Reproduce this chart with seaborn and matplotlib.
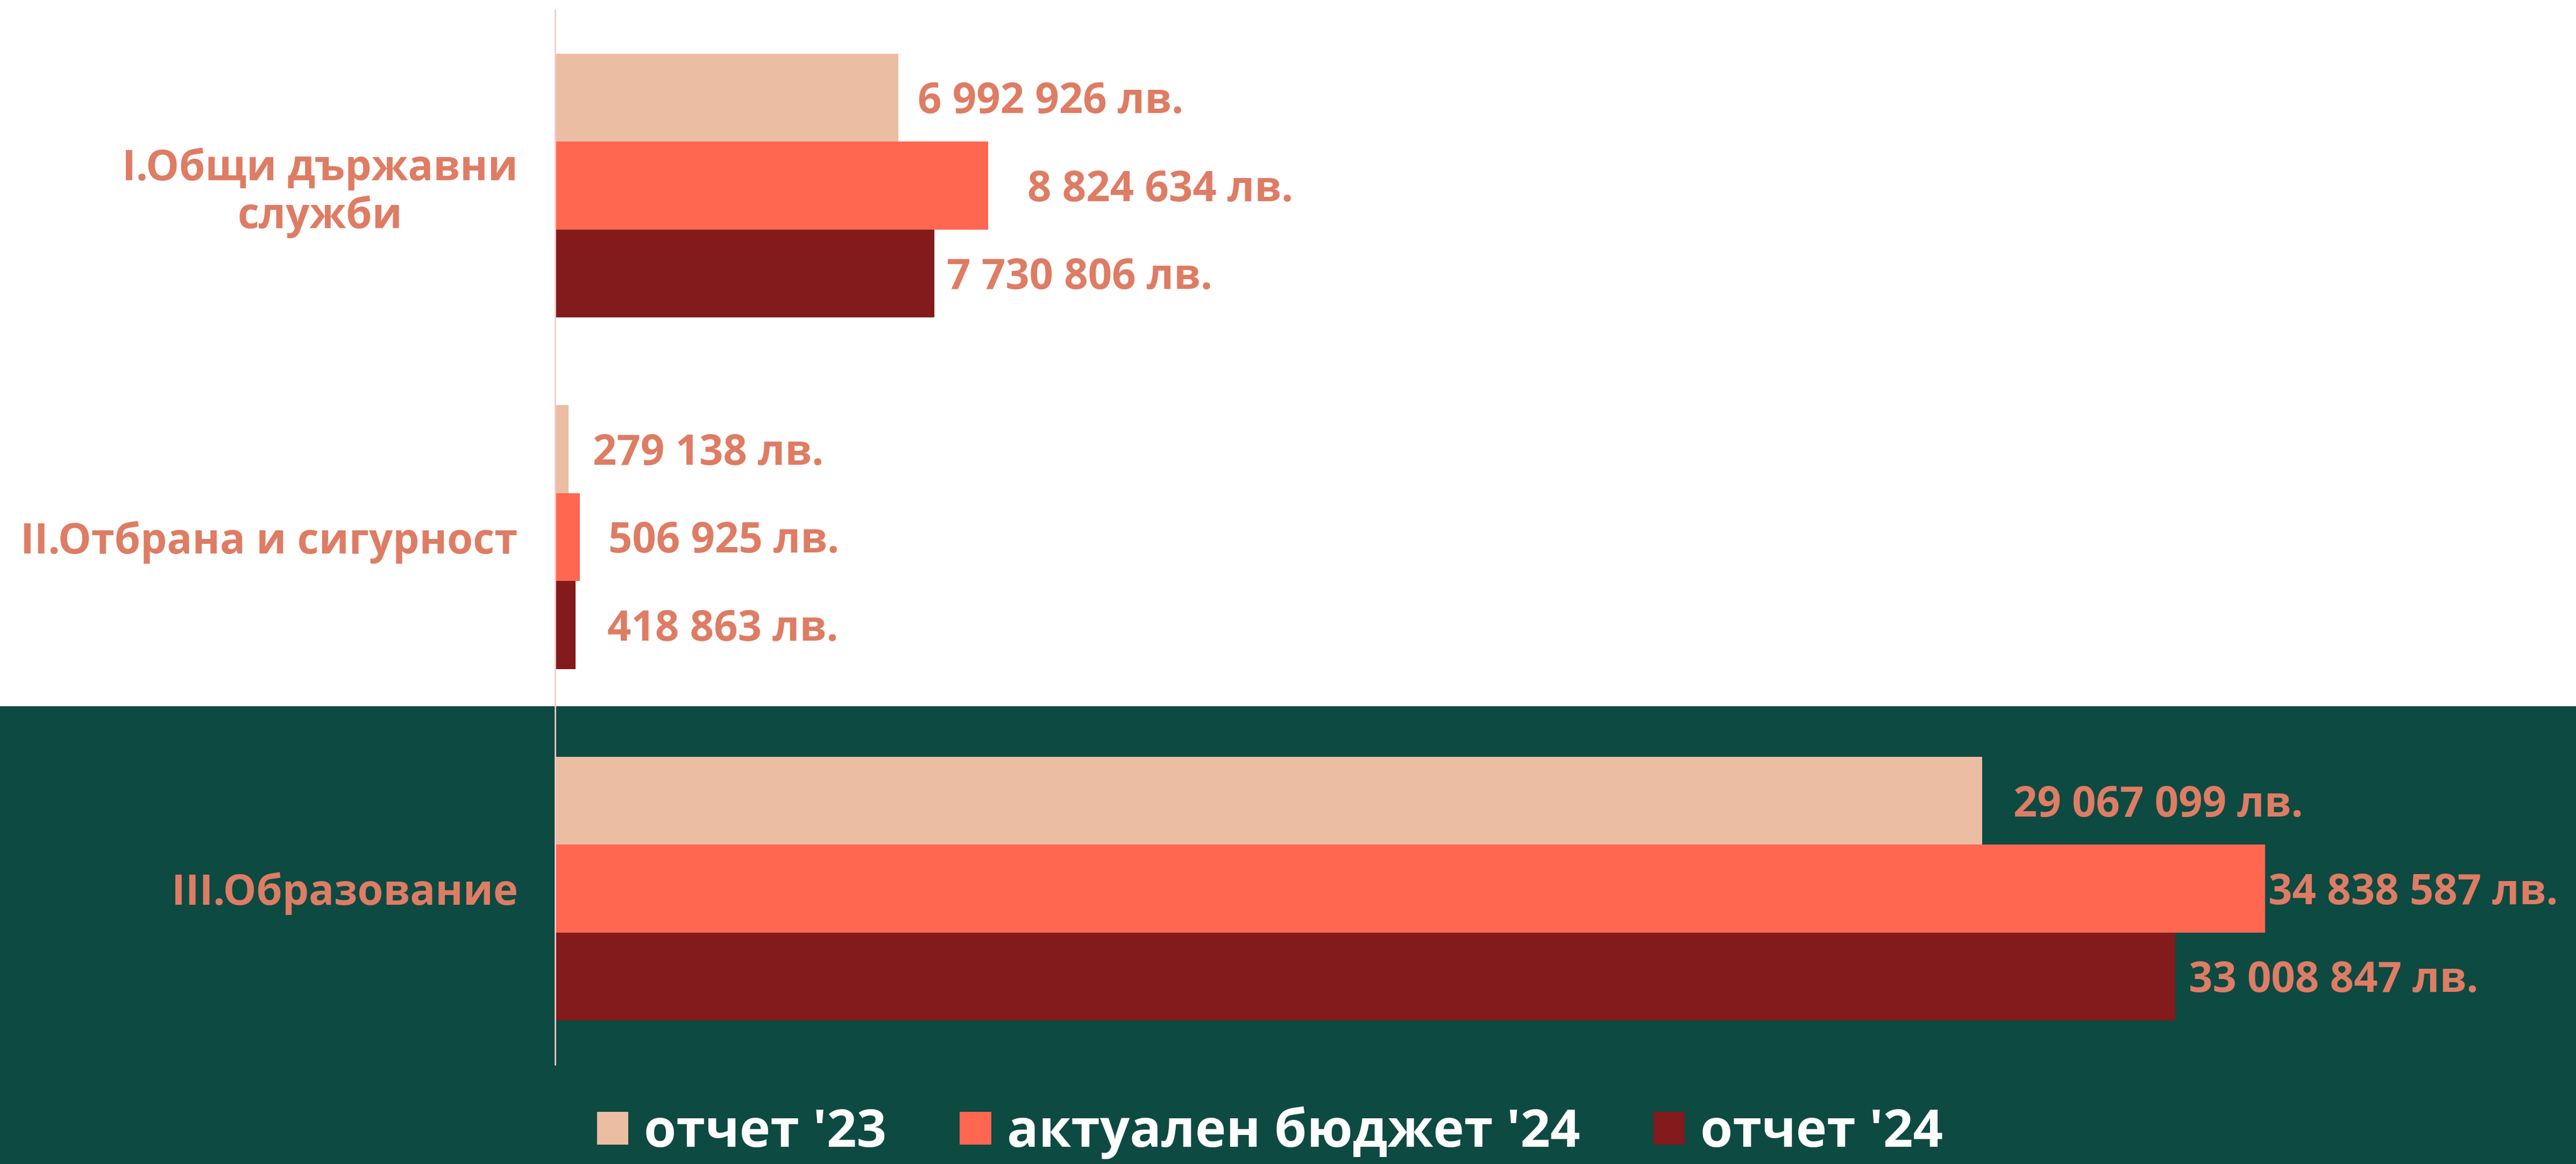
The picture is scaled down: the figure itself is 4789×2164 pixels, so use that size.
import pandas as pd
import numpy as np
import matplotlib.pyplot as plt
import seaborn as sns
from matplotlib.patches import Rectangle, Patch

# style
sns.set_theme(style="white")
plt.rcParams['font.family'] = ['Open Sans', 'DejaVu Sans']
plt.rcParams['font.weight'] = 'bold'

# data
categories = ['I.Общи държавни\nслужби', 'II.Отбрана и сигурност', 'III.Образование']
series = ["отчет '23", "актуален бюджет '24", "отчет '24"]
otchet_23 = [6992926, 279138, 29067099]
budget_24 = [8824634, 506925, 34838587]
otchet_24 = [7730806, 418863, 33008847]

colors = ['#EBBDA3', '#FF6751', '#831A1B']
label_color = '#DE7C64'
bg_green = '#0D4A42'
# label offsets in points (series x category)
label_pad = [[13, 16, 21], [26, 19, 2], [8, 21, 9]]

rows = []
for s, vals in zip(series, [otchet_23, budget_24, otchet_24]):
    for c, v in zip(categories, vals):
        rows.append({'Категория': c, 'Серия': s, 'Стойност': v})
df = pd.DataFrame(rows)

fig = plt.figure(figsize=(4789 / 200, 2164 / 200), dpi=200, facecolor='white')
# green band at the bottom of the slide
fig.patches.append(Rectangle((0, 0), 1, 1 - 1313 / 2164, transform=fig.transFigure,
                             facecolor=bg_green, edgecolor='none', zorder=-5))

ax = fig.add_axes([1032 / 4789, 0.0855, 0.9777 - 1032 / 4789, 0.9917 - 0.0855])
ax.set_facecolor('none')
ax.set_zorder(2)

sns.barplot(data=df, y='Категория', x='Стойност', hue='Серия', orient='h',
            order=categories, hue_order=series, palette=colors,
            width=0.75, gap=0, saturation=1, ax=ax, errorbar=None, linewidth=0)

ax.set_xlim(0, 40_000_000)
ax.set_ylim(2.5, -0.5)
ax.set_xlabel('')
ax.set_ylabel('')
ax.set_xticks([])
ax.tick_params(axis='y', length=0, pad=25, labelsize=28, labelcolor=label_color)
for lbl in ax.get_yticklabels():
    lbl.set_fontweight('bold')
    lbl.set_multialignment('center')
    lbl.set_linespacing(1.15)

for side in ['top', 'right', 'bottom']:
    ax.spines[side].set_visible(False)
ax.spines['left'].set_color('#F5CACA')
ax.spines['left'].set_linewidth(1.0)

# value labels
def fmt(v):
    return f"{int(v):,}".replace(',', ' ') + ' лв.'

for i, cont in enumerate(ax.containers):
    for j, p in enumerate(cont.patches):
        w = p.get_width()
        yc = p.get_y() + p.get_height() / 2
        ax.annotate(fmt(w), (w, yc), xytext=(label_pad[i][j], -3),
                    textcoords='offset points', ha='left', va='center',
                    fontsize=28, fontweight='bold', color=label_color,
                    annotation_clip=False)

# legend
ax.get_legend().remove()
handles = [Patch(facecolor=c, edgecolor='none') for c in colors]
fig.legend(handles, series, loc='center', bbox_to_anchor=(0.493, 0.027), ncol=3,
           frameon=False, handlelength=0.6, handleheight=0.6, handletextpad=0.3,
           columnspacing=1.4, labelcolor='white', borderpad=0.1,
           prop={'family': ['Open Sans', 'DejaVu Sans'], 'weight': 'bold', 'size': 35})

plt.savefig('out.png', dpi=200, facecolor=fig.get_facecolor())
plt.close()
